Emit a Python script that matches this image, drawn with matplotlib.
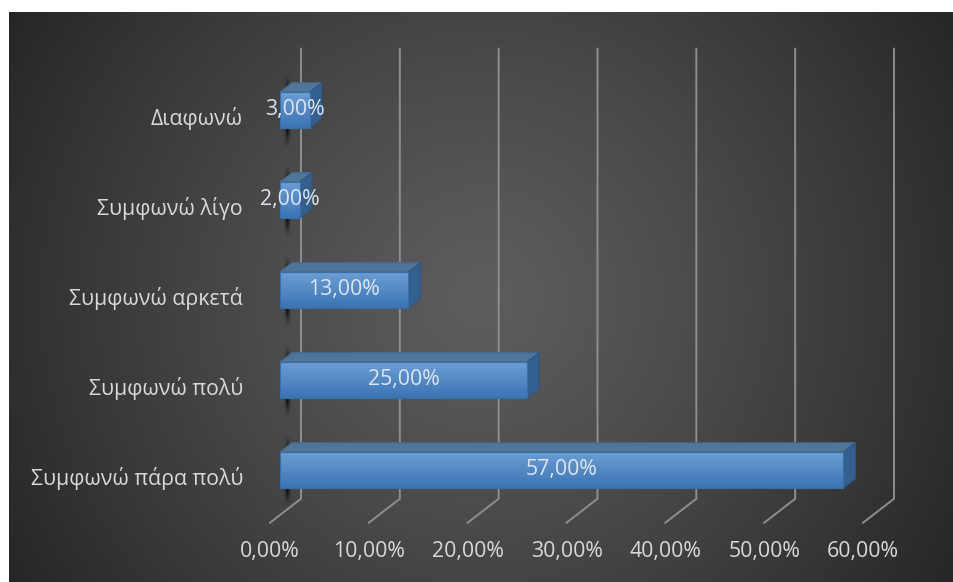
import numpy as np
import matplotlib
matplotlib.use("Agg")
import matplotlib.pyplot as plt
from matplotlib.patches import Polygon, Rectangle
from matplotlib.transforms import IdentityTransform, offset_copy

# ---- data ---------------------------------------------------------------
categories = ["Συμφωνώ πάρα πολύ", "Συμφωνώ πολύ", "Συμφωνώ αρκετά",
              "Συμφωνώ λίγο", "Διαφωνώ"]
values = [57.0, 25.0, 13.0, 2.0, 3.0]
x_ticks = [0, 10, 20, 30, 40, 50, 60]


def pct(v):
    return f"{v:.2f}".replace(".", ",") + "%"


FONT = ["Open Sans", "DejaVu Sans"]
FS = 15.3
W, H, DPI = 954, 582, 100

fig = plt.figure(figsize=(W / DPI, H / DPI), dpi=DPI, facecolor="white")

# ---- dark radial-gradient chart area ------------------------------------
bg = fig.add_axes([9 / W, 0, (W - 9) / W, (H - 12) / H], zorder=0)
bw, bh = W - 9, H - 12
yy, xx = np.mgrid[0:bh, 0:bw]
r = np.hypot(xx - bw * 0.50, yy - bh * 0.50) / 560.0
t = np.clip(r, 0, 1) ** 1.2
c_in, c_out = np.array([0x5d, 0x5d, 0x5d]) / 255, np.array([0x25, 0x25, 0x25]) / 255
img = c_in[None, None, :] * (1 - t[..., None]) + c_out[None, None, :] * t[..., None]
bg.imshow(img, aspect="auto", interpolation="bilinear")
bg.set_axis_off()

# ---- plotting axes (front plane of the 3-D box) ------------------------
ax = fig.add_axes([280 / W, (H - 515) / H, 593 / W, 450 / H], zorder=1)
ax.set_xlim(0, 60)
ax.set_ylim(-0.5, 4.5)
ax.set_axis_off()
ax.patch.set_alpha(0)
ax.set_autoscale_on(False)

DY_PER_DX = 24 / 31  # oblique depth direction (pixels up per pixel right)
BACK, BAR_DEPTH, FRONT = 21, 12, -10
BAR_H = 0.4


def proj(x, y, d=0.0):
    px, py = ax.transData.transform((x, y))
    return (px + d, py + d * DY_PER_DX)


ident = IdentityTransform()
grid_col = "#8e8e8e"

# gridlines: back wall verticals plus floor diagonals
for v in x_ticks:
    p_top = proj(v, 4.5, BACK)
    p_bot = proj(v, -0.5, BACK)
    p_fr = proj(v, -0.5, FRONT)
    ax.plot([p_top[0], p_bot[0], p_fr[0]], [p_top[1], p_bot[1], p_fr[1]],
            transform=ident, color=grid_col, lw=1.4, clip_on=False, zorder=1,
            solid_joinstyle="miter")
    lx, ly = proj(v, -0.5, FRONT)
    ax.text(lx, ly - 29, pct(v), transform=ident, ha="center", va="center",
            fontsize=FS, color="#d9d9d9", family=FONT)

# soft shadow texture
sy = np.linspace(-1, 1, 121)
sx = np.linspace(-1, 1, 41)
SX, SY = np.meshgrid(sx, sy)
shadow_alpha = 0.95 * np.exp(-(SX / 0.4) ** 2) * np.exp(-(SY / 0.8) ** 4)
shadow = np.zeros(SX.shape + (4,))
shadow[..., 3] = shadow_alpha

# front face gradient (top light -> bottom darker)
g = np.linspace(0, 1, 64)[:, None]
top_c = np.array([0x6c, 0x9e, 0xd4]) / 255
bot_c = np.array([0x3b, 0x74, 0xb4]) / 255
face = top_c[None, :] * (1 - g[..., None]) + bot_c[None, :] * g[..., None]
face = np.repeat(face, 2, axis=1)

px_per_x = 593 / 60
for i, (cat, v) in enumerate(zip(categories, values)):
    y0, y1 = i - BAR_H / 2, i + BAR_H / 2
    # shadow smudge behind the bar's left end
    cx = 7 / px_per_x
    ax.imshow(shadow, extent=(cx - 0.55, cx + 0.55, i - 0.40, i + 0.36),
              aspect="auto", interpolation="bilinear", zorder=2, clip_on=False)
    # top face
    top = [proj(0, y1, 0), proj(v, y1, 0), proj(v, y1, BAR_DEPTH), proj(0, y1, BAR_DEPTH)]
    ax.add_patch(Polygon(top, closed=True, transform=ident, facecolor="#4f7599",
                         edgecolor="#46698e", lw=0.8, zorder=3, clip_on=False))
    # side face
    side = [proj(v, y0, 0), proj(v, y1, 0), proj(v, y1, BAR_DEPTH), proj(v, y0, BAR_DEPTH)]
    ax.add_patch(Polygon(side, closed=True, transform=ident, facecolor="#33608f",
                         edgecolor="#2d5784", lw=0.8, zorder=3, clip_on=False))
    # front face
    ax.imshow(face, extent=(0, v, y0, y1), aspect="auto", interpolation="bilinear",
              zorder=4, clip_on=False)
    ax.add_patch(Rectangle((0, y0), v, BAR_H, facecolor="none", edgecolor="#3a6ea6",
                           lw=0.8, zorder=5, clip_on=False))
    # value label
    ax.text(v / 2, i, pct(v), ha="center", va="center", fontsize=FS,
            color="#dde5ef", family=FONT, zorder=6, clip_on=False)
    # category label (sits on the front plane of the floor)
    cat_tr = offset_copy(ax.transData, fig=fig, x=-37, y=-8, units="dots")
    ax.text(0, i, cat, transform=cat_tr, ha="right", va="center", fontsize=FS,
            color="#d9d9d9", family=FONT, zorder=6)

fig.savefig("out.png", dpi=DPI, facecolor="white")
